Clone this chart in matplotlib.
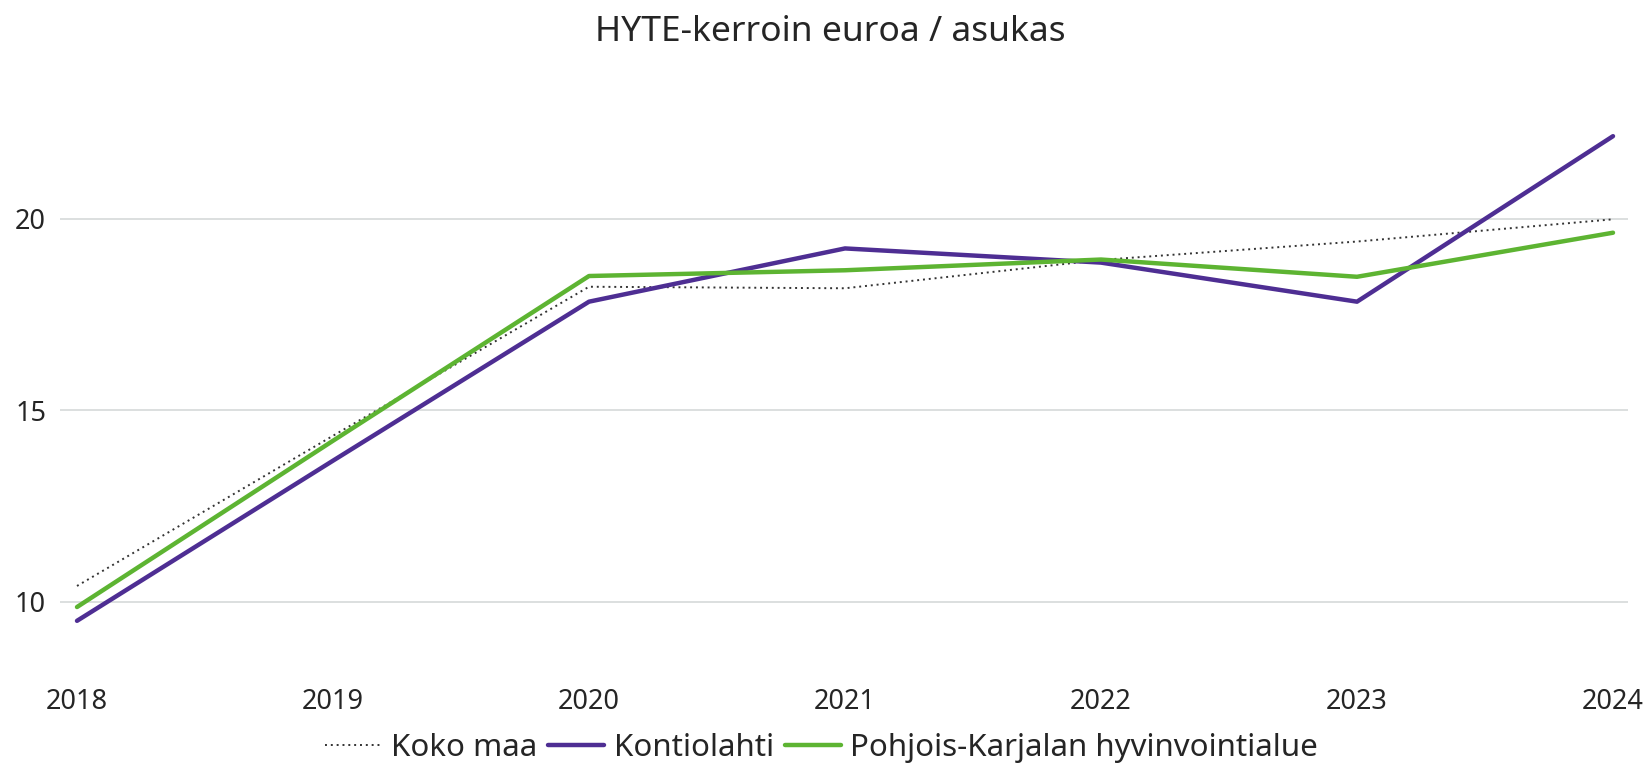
import matplotlib
matplotlib.use("Agg")
import matplotlib.pyplot as plt

years = [2018, 2019, 2020, 2021, 2022, 2023, 2024]
koko_maa = [10.41, 14.33, 18.22, 18.18, 18.92, 19.40, 19.98]
kontiolahti = [9.50, 13.68, 17.83, 19.22, 18.85, 17.83, 22.15]
pohjois_karjala = [9.86, 14.20, 18.50, 18.65, 18.93, 18.48, 19.63]
y_ticks = [10, 15, 20]
title = "HYTE-kerroin euroa / asukas"
labels = ["Koko maa", "Kontiolahti", "Pohjois-Karjalan hyvinvointialue"]

plt.rcParams['font.family'] = ['Noto Sans', 'DejaVu Sans']

fig = plt.figure(figsize=(16.5, 7.68), dpi=100)
ax = fig.add_axes([0.03636, 0.1168, 0.95031, 0.7483])

ax.plot(years, koko_maa, color="#333333", lw=1.4, ls=(0, (1, 2.0)), label=labels[0], zorder=3)
ax.plot(years, kontiolahti, color="#4e2e93", lw=3.2, label=labels[1], solid_capstyle="round", zorder=4)
ax.plot(years, pohjois_karjala, color="#5db432", lw=3.2, label=labels[2], solid_capstyle="round", zorder=5)

ax.set_xlim(2018 - 17/256, 2024 + 15/256)
ax.set_ylim(8, 23)
ax.set_xticks(years)
ax.set_xticklabels([str(y) for y in years])
ax.set_yticks(y_ticks)
ax.grid(axis="y", color="#d9dcdc", lw=1.3)
ax.set_axisbelow(True)
for s in ax.spines.values():
    s.set_visible(False)
ax.tick_params(axis="both", length=0, labelsize=19.5, colors="#252525")
ax.tick_params(axis="y", pad=10)
ax.tick_params(axis="x", pad=7)

fig.text(0.503, 0.958, title, ha="center", va="center", fontsize=25.5, color="#252525")

leg = fig.legend(loc="center", bbox_to_anchor=(0.498, 0.026), ncol=3, frameon=False,
                 fontsize=22.5, handlelength=1.8, handletextpad=0.3, columnspacing=0.35,
                 borderaxespad=0, borderpad=0)
for t in leg.get_texts():
    t.set_color("#252525")

fig.savefig("out.png", dpi=100, facecolor="white")
